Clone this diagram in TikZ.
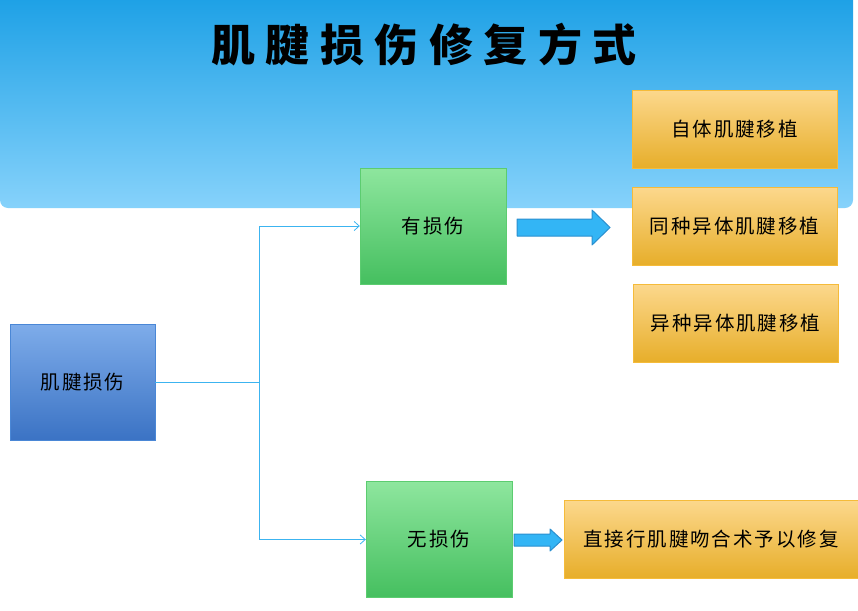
\documentclass[tikz,border=0pt]{standalone}
\usepackage{fontspec}
\usetikzlibrary{calc,positioning,arrows,arrows.meta}
\newfontfamily\cjk[LetterSpace=10]{Noto Sans CJK SC}
\newfontfamily\cjktitle[LetterSpace=24]{Noto Sans CJK SC}
\definecolor{hdtop}{HTML}{1A9FE5}
\definecolor{hdbot}{HTML}{86D2FB}
\definecolor{linkblue}{HTML}{3CB4F0}
\definecolor{arrfill}{HTML}{33B5F5}
\definecolor{arrdraw}{HTML}{2A8FCF}
\definecolor{bluetop}{HTML}{7EACEA}
\definecolor{bluebot}{HTML}{3B73C4}
\definecolor{blueline}{HTML}{4A87D6}
\definecolor{greentop}{HTML}{8EE69E}
\definecolor{greenbot}{HTML}{45BF5F}
\definecolor{greenline}{HTML}{5CCC70}
\definecolor{orangetop}{HTML}{FCD88D}
\definecolor{orangebot}{HTML}{E7AE2A}
\definecolor{orangeline}{HTML}{F5BB3A}

\begin{document}
\begin{tikzpicture}[x=1pt,y=-1pt,
    box/.style={draw,rectangle,inner sep=0pt,font=\cjk\fontsize{19.5}{22}\selectfont,text=black},
    bluebox/.style={box,draw=blueline,top color=bluetop,bottom color=bluebot,minimum width=145pt,minimum height=116pt},
    greenbox/.style={box,draw=greenline,top color=greentop,bottom color=greenbot,minimum width=146pt,minimum height=116pt},
    orangebox/.style={box,draw=orangeline,top color=orangetop,bottom color=orangebot,minimum height=78pt},
    blockarr/.style={draw=arrdraw,fill=arrfill,line width=1pt,line join=round},
    link/.style={-{Straight Barb[length=5pt,width=9pt,line width=0.8pt]},linkblue,line width=0.9pt}]
\useasboundingbox (0,0) rectangle (858,610);
% header band
\shade[top color=hdtop,bottom color=hdbot,rounded corners=8pt] (0,-10) -- (853,-10) -- (853,208) -- (0,208) -- cycle;
\node[font=\cjktitle\bfseries\fontsize{44}{48}\selectfont] (title) at (424,45) {肌腱损伤修复方式};

\node[bluebox] (injury) at (82.5,382) {肌腱损伤};
\node[greenbox] (yes) at (433,226) {有损伤};
\node[greenbox] (no) at (439,539.5) {无损伤};

\node[orangebox,minimum width=205pt] (auto) at (734.5,129) {自体肌腱移植};
\node[orangebox,minimum width=205pt] (allo) at (734.5,226) {同种异体肌腱移植};
\node[orangebox,minimum width=205pt] (xeno) at (735.5,323) {异种异体肌腱移植};
\node[orangebox,minimum width=294pt] (suture) at (711,539) {直接行肌腱吻合术予以修复};

% block arrows
\draw[blockarr] (517,219) -- (592,219) -- (592,210) -- (610,227.5) -- (592,245) -- (592,236) -- (517,236) -- cycle;
\draw[blockarr] (514,534) -- (550,534) -- (550,529) -- (562,540) -- (550,551) -- (550,546) -- (514,546) -- cycle;

\coordinate (split) at (259,382);
\draw[link] (injury.east) -- (split) |- (yes.west);
\draw[link] (split) |- (no.west);
\end{tikzpicture}
\end{document}
